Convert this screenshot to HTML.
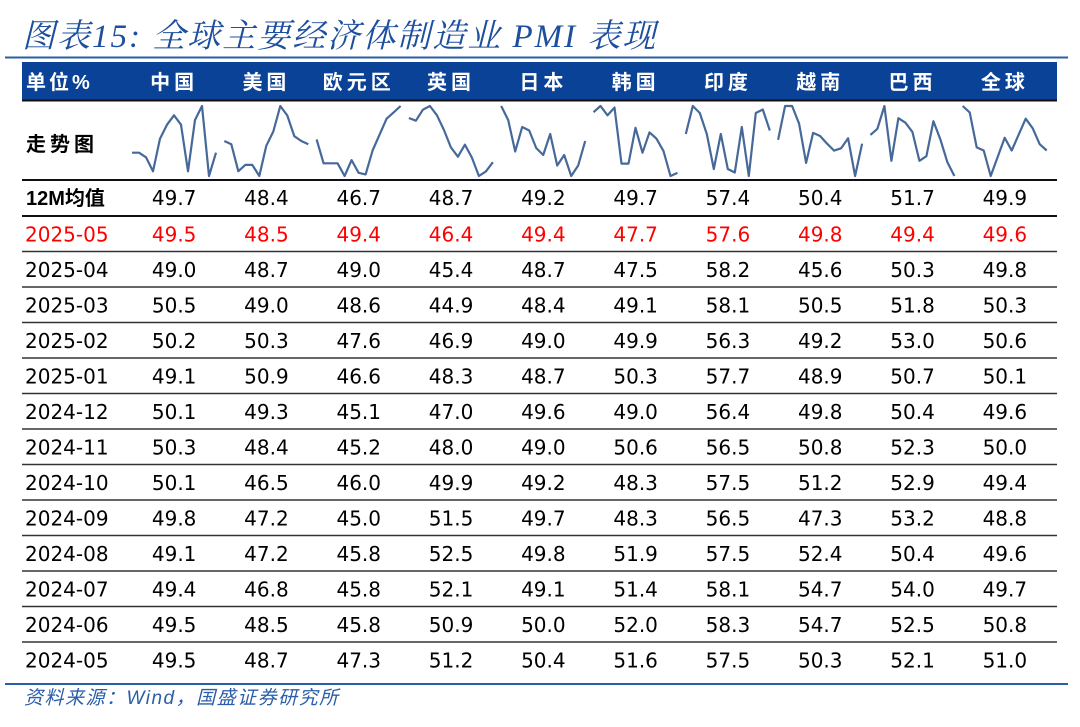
<!DOCTYPE html>
<html><head><meta charset="utf-8">
<style>
html,body{margin:0;padding:0;background:#fff;}
svg{display:block;}
</style></head>
<body>
<svg id="c" width="1080" height="727" xmlns="http://www.w3.org/2000/svg">
<text x="22" y="47" font-family="'Liberation Serif','Noto Serif CJK SC',serif" font-style="italic" font-size="33" fill="#1d4f9e" letter-spacing="2">图表15:  全球主要经济体制造业 PMI 表现</text>
<line x1="5" y1="57.5" x2="1068" y2="57.5" stroke="#2a5ea8" stroke-width="2"/>
<rect x="22" y="62" width="1035" height="38" fill="#0a4297"/>
<g id="g"></g>
<line x1="5" y1="684" x2="1068" y2="684" stroke="#2a5ea8" stroke-width="2"/>
<text x="24" y="704" font-family="'Liberation Sans','Noto Sans CJK SC',sans-serif" font-style="italic" font-size="19" letter-spacing="1.5" fill="#2a5ea8">资料来源：Wind，国盛证券研究所</text>
</svg>
<script>
const countries=["中国","美国","欧元区","英国","日本","韩国","印度","越南","巴西","全球"];
const avg12=["49.7","48.4","46.7","48.7","49.2","49.7","57.4","50.4","51.7","49.9"];
const months=["2025-05","2025-04","2025-03","2025-02","2025-01","2024-12","2024-11","2024-10","2024-09","2024-08","2024-07","2024-06","2024-05"];
const v0505=[49.5,48.5,49.4,46.4,49.4,47.7,57.6,49.8,49.4,49.6];
const v0504=[49.0,48.7,49.0,45.4,48.7,47.5,58.2,45.6,50.3,49.8];
const v0503=[50.5,49.0,48.6,44.9,48.4,49.1,58.1,50.5,51.8,50.3];
const v0502=[50.2,50.3,47.6,46.9,49.0,49.9,56.3,49.2,53.0,50.6];
const v0501=[49.1,50.9,46.6,48.3,48.7,50.3,57.7,48.9,50.7,50.1];
const v0412=[50.1,49.3,45.1,47.0,49.6,49.0,56.4,49.8,50.4,49.6];
const v0411=[50.3,48.4,45.2,48.0,49.0,50.6,56.5,50.8,52.3,50.0];
const v0410=[50.1,46.5,46.0,49.9,49.2,48.3,57.5,51.2,52.9,49.4];
const v0409=[49.8,47.2,45.0,51.5,49.7,48.3,56.5,47.3,53.2,48.8];
const v0408=[49.1,47.2,45.8,52.5,49.8,51.9,57.5,52.4,50.4,49.6];
const v0407=[49.4,46.8,45.8,52.1,49.1,51.4,58.1,54.7,54.0,49.7];
const v0406=[49.5,48.5,45.8,50.9,50.0,52.0,58.3,54.7,52.5,50.8];
const v0405=[49.5,48.7,47.3,51.2,50.4,51.6,57.5,50.3,52.1,51.0];
const rows=[v0505,v0504,v0503,v0502,v0501,v0412,v0411,v0410,v0409,v0408,v0407,v0406,v0405];

const NS="http://www.w3.org/2000/svg";
const g=document.getElementById('g');
const X0=128,CW=92.3;
const cx=i=>X0+CW*i+CW/2;
function mk(tag,attrs){const e=document.createElementNS(NS,tag);for(const k in attrs)e.setAttribute(k,attrs[k]);g.appendChild(e);return e;}
const NUMF="'DejaVu Sans','Liberation Sans',sans-serif";
const CJKF="'Liberation Sans','Noto Sans CJK SC',sans-serif";
let h=mk('text',{x:26,y:89,'font-family':CJKF,'font-size':20,'font-weight':'bold',fill:'#fff','letter-spacing':3});
h.textContent="单位%";


countries.forEach((c,i)=>{
  const t=mk('text',{x:cx(i),y:89,'text-anchor':'middle','font-family':CJKF,'font-size':20,'font-weight':'bold',fill:'#fff','letter-spacing':4});
  t.textContent=c;
  
  
});
let s=mk('text',{x:26,y:151,'font-family':CJKF,'font-size':20,'font-weight':'bold',fill:'#000','letter-spacing':4});
s.textContent="走势图";


countries.forEach((c,i)=>{
  const ser=[];for(let r=rows.length-1;r>=0;r--)ser.push(rows[r][i]);
  const mn=Math.min(...ser),mx=Math.max(...ser);
  const x0=X0+CW*i+4,w=84,yt=106,yb=176;
  const pts=ser.map((v,k)=>(x0+w*k/(ser.length-1)).toFixed(1)+","+(yb-(v-mn)/(mx-mn||1)*(yb-yt)).toFixed(1)).join(" ");
  const p=mk('polyline',{points:pts,fill:'none',stroke:'#46699a','stroke-width':2.2,'stroke-linejoin':'round'});
  
  
});
const L=(y,sw,col)=>{const l=mk('line',{x1:22,x2:1057,y1:y,y2:y,stroke:col,'stroke-width':sw});};
L(100.5,2,'#111');L(180,2,'#111');
let a=mk('text',{x:26,y:205,'font-family':CJKF,'font-size':20,'font-weight':'bold',fill:'#000'});
a.textContent="12M均值";


avg12.forEach((v,i)=>{const t=mk('text',{x:cx(i),y:205,'text-anchor':'middle','font-family':NUMF,'font-size':20,fill:'#000'});t.textContent=v;});
L(216,2,'#111');
const RH=35.5;
months.forEach((m,r)=>{
  const y=216+RH*r+RH/2+7.5;
  const col=r===0?'#ff0000':'#000';
  const t=mk('text',{x:25,y:y,'font-family':NUMF,'font-size':20,fill:col});t.textContent=m;
  
  
  rows[r].forEach((v,i)=>{const e=mk('text',{x:cx(i),y:y,'text-anchor':'middle','font-family':NUMF,'font-size':20,fill:col});e.textContent=v.toFixed(1);
    
    });
  if(r<months.length-1)L(216+RH*(r+1),1.5,'#333');
});
</script>
</body></html>
